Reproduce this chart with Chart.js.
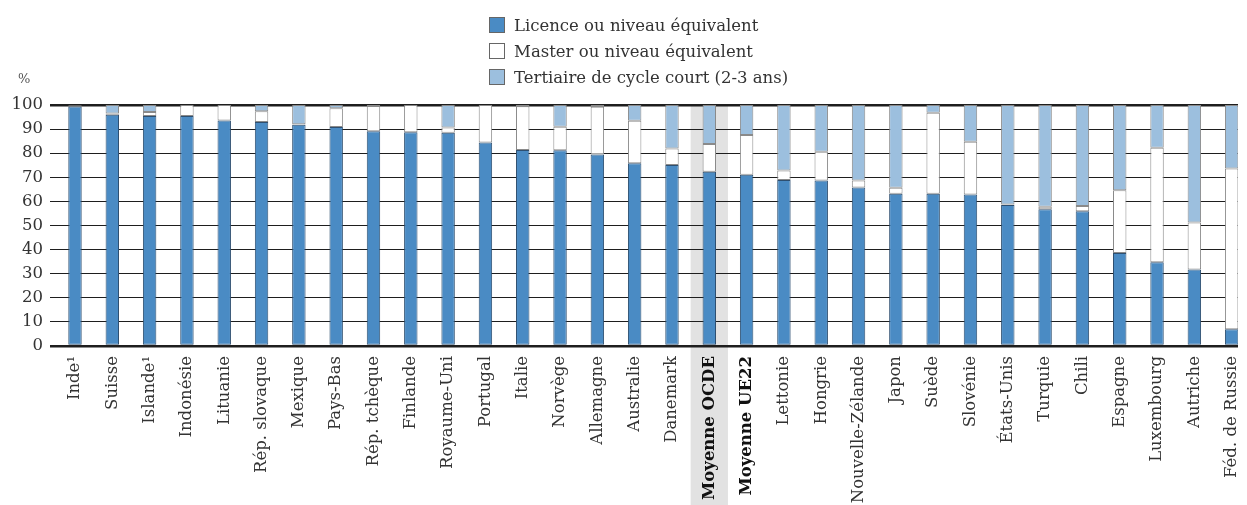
<!DOCTYPE html>
<html lang="fr">
<head>
<meta charset="utf-8">
<script src="https://cdn.jsdelivr.net/npm/chart.js@4.4.1/dist/chart.umd.min.js"></script>
<style>
  body { margin: 0; background: #fff; }
  #wrap { position: relative; width: 1247px; height: 505px; }
  #legend { position: absolute; left: 489px; top: 12px; font-family: "DejaVu Serif", serif; font-size: 16.5px; color: #333; }
  #legend div { height: 26px; display: flex; align-items: center; }
  #legend span.box { display: inline-block; width: 14px; height: 14px; border: 1px solid #666; margin-right: 9px; }
</style>
</head>
<body>
<div id="wrap">
  <canvas id="chart" width="1247" height="505"></canvas>
  <div id="legend"></div>
</div>
<script>
// Countries, sorted by share of bachelor's degree
const countries = ["Inde¹", "Suisse", "Islande¹", "Indonésie", "Lituanie", "Rép. slovaque", "Mexique", "Pays-Bas",
  "Rép. tchèque", "Finlande", "Royaume-Uni", "Portugal", "Italie", "Norvège", "Allemagne", "Australie", "Danemark",
  "Moyenne OCDE", "Moyenne UE22", "Lettonie", "Hongrie", "Nouvelle-Zélande", "Japon", "Suède", "Slovénie",
  "États-Unis", "Turquie", "Chili", "Espagne", "Luxembourg", "Autriche", "Féd. de Russie"];

const licence = [99.4, 96.0, 95.4, 95.4, 93.6, 92.9, 91.8, 90.9, 89.1, 88.7, 88.5, 84.4, 81.3, 81.2, 79.5, 75.8, 75.1,
  72.3, 71.1, 68.9, 68.7, 65.8, 63.2, 63.2, 62.9, 58.5, 56.7, 55.9, 38.6, 34.7, 31.7, 6.9];
const master = [0.3, 0.5, 1.7, 4.6, 6.4, 4.5, 0.2, 7.7, 10.5, 11.3, 2.2, 15.6, 18.2, 9.8, 19.8, 17.7, 6.9,
  11.5, 16.5, 3.9, 11.9, 2.9, 2.5, 33.6, 21.9, 0.2, 1.1, 2.2, 26.0, 47.6, 19.5, 66.8];
const courtTerme = [0.3, 3.5, 2.9, 0, 0, 2.6, 8.0, 1.4, 0.4, 0, 9.3, 0, 0.5, 9.0, 0.7, 6.5, 18.0,
  16.2, 12.4, 27.2, 19.4, 31.3, 34.3, 3.2, 15.2, 41.3, 42.2, 41.9, 35.4, 17.7, 48.8, 26.3];

const seriesNames = ["Licence ou niveau équivalent", "Master ou niveau équivalent", "Tertiaire de cycle court (2-3 ans)"];
const yTicks = [0, 10, 20, 30, 40, 50, 60, 70, 80, 90, 100];
const highlighted = "Moyenne OCDE";
const boldLabels = ["Moyenne OCDE", "Moyenne UE22"];

const FONT = "'DejaVu Serif', serif";
const colors = [
  { bg: "#4a8bc4", border: "#2e4f70" },
  { bg: "#ffffff", border: "#8a8a8a" },
  { bg: "#9cbfde", border: "#8a8a8a" }
];

function toPoints(arr) {
  return arr.map((v, i) => ({ x: i, y: v }));
}

// grey band behind the OECD average + the "%" unit
const extras = {
  id: "extras",
  beforeDraw(chart) {
    const { ctx, chartArea, scales } = chart;
    const i = countries.indexOf(highlighted);
    const x0 = scales.x.getPixelForValue(i - 0.5);
    const x1 = scales.x.getPixelForValue(i + 0.5);
    ctx.save();
    ctx.fillStyle = "#e2e2e2";
    ctx.fillRect(x0, chartArea.top, x1 - x0, chart.height - chartArea.top);
    ctx.restore();
  },
  afterDraw(chart) {
    const ctx = chart.ctx;
    ctx.save();
    ctx.font = "13px " + FONT;
    ctx.fillStyle = "#555";
    ctx.textBaseline = "middle";
    ctx.fillText("%", 18, 80);
    ctx.restore();
  }
};

const datasets = [licence, master, courtTerme].map((arr, k) => ({
  label: seriesNames[k],
  data: toPoints(arr),
  backgroundColor: colors[k].bg,
  borderColor: colors[k].border,
  borderWidth: 1,
  borderSkipped: false,
  barPercentage: 0.36,
  categoryPercentage: 1
}));

new Chart(document.getElementById("chart"), {
  type: "bar",
  data: { datasets },
  plugins: [extras],
  options: {
    responsive: false,
    animation: false,
    layout: { padding: { top: 105, right: 9, left: 0, bottom: 0 } },
    plugins: { legend: { display: false }, tooltip: { enabled: false } },
    scales: {
      x: {
        type: "linear",
        stacked: true,
        offset: false,
        min: -0.67,
        max: 31.17,
        grid: { display: false },
        border: { display: false },
        afterFit: (s) => {
          s.height = 159;
          s.paddingLeft = 0;
          s.paddingRight = 0;
        },
        ticks: {
          stepSize: 1,
          autoSkip: false,
          includeBounds: false,
          maxRotation: 90,
          minRotation: 90,
          padding: 2,
          color: (c) => boldLabels.includes(countries[c.tick.value]) ? "#111" : "#333",
          font: (c) => ({
            family: FONT,
            size: 16.5,
            weight: boldLabels.includes(countries[c.tick && c.tick.value]) ? "bold" : "normal"
          }),
          callback: (v) => Number.isInteger(v) && countries[v] ? countries[v] : ""
        }
      },
      y: {
        stacked: true,
        min: 0,
        max: 100,
        afterFit: (s) => { s.width = 50; },
        afterBuildTicks: (s) => { s.ticks = yTicks.map(v => ({ value: v })); },
        border: { display: false },
        grid: {
          color: "#1e1e1e",
          lineWidth: (c) => (c.tick.value === 0 || c.tick.value === 100) ? 2.5 : 1,
          drawTicks: false
        },
        ticks: {
          padding: 7,
          color: "#333",
          font: { family: FONT, size: 16.5 }
        }
      }
    }
  }
});

// legend
const legend = document.getElementById("legend");
seriesNames.forEach((name, k) => {
  const row = document.createElement("div");
  row.innerHTML = `<span class="box" style="background:${colors[k].bg}"></span>${name}`;
  legend.appendChild(row);
});
</script>
</body>
</html>
